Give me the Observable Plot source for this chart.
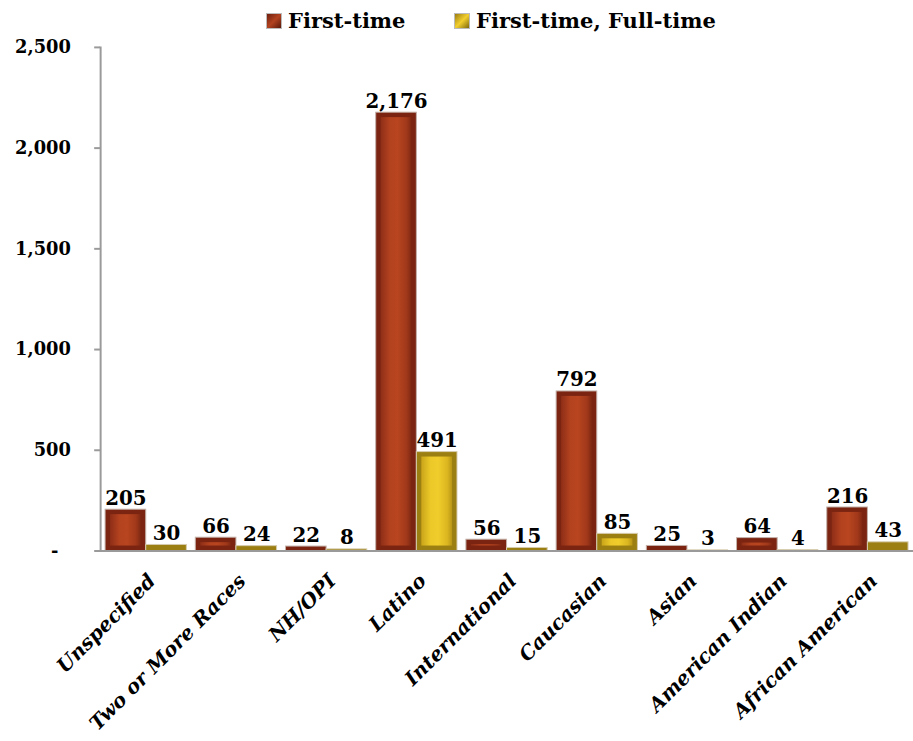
<!DOCTYPE html>
<html>
<head>
<meta charset="utf-8">
<script src="https://cdn.jsdelivr.net/npm/d3@7"></script>
<script src="https://cdn.jsdelivr.net/npm/@observablehq/plot@0.6"></script>
<style>
  html, body { margin: 0; padding: 0; background: #fff; overflow: hidden; width: 913px; height: 741px; }
  #legend { height: 36px; position: relative; font-family: "DejaVu Serif", serif; font-weight: bold; font-size: 21px; color: #000; }
  .lg { position: absolute; top: 8px; display: flex; align-items: center; }
  .sw { width: 16px; height: 16px; margin-right: 6px; box-sizing: border-box; border: 1px solid #bbb; }
  #chart svg { display: block; }
</style>
</head>
<body>
<div id="legend"></div>
<div id="chart"></div>
<script>
const categories = ["Unspecified", "Two or More Races", "NH/OPI", "Latino", "International", "Caucasian", "Asian", "American Indian", "African American"];
const firstTime = [205, 66, 22, 2176, 56, 792, 25, 64, 216];
const fullTime = [30, 24, 8, 491, 15, 85, 3, 4, 43];
const seriesNames = ["First-time", "First-time, Full-time"];
const yTicks = [0, 500, 1000, 1500, 2000, 2500];

const rows = [];
categories.forEach((c, i) => {
  rows.push({category: c, series: seriesNames[0], value: firstTime[i]});
  rows.push({category: c, series: seriesNames[1], value: fullTime[i]});
});
const red = rows.filter(d => d.series === seriesNames[0]);
const gold = rows.filter(d => d.series === seriesNames[1]);

const font = "DejaVu Serif, serif";
const half = 41;
const bev = 5;

const plot = Plot.plot({
  width: 921,
  height: 705,
  marginLeft: 101,
  marginRight: 0,
  marginTop: 11,
  marginBottom: 186,
  style: {fontFamily: font, fontWeight: "bold", fontSize: "18px", color: "#000", background: "transparent"},
  x: {domain: categories, paddingInner: 0.1, paddingOuter: 0.05, label: null},
  y: {domain: [0, 2500], label: null},
  marks: [
    Plot.barY(red, {x: "category", y: "value", fill: "#7a2411", insetRight: half, insetLeft: 0, stroke: "#c4b2aa", strokeWidth: 1}),
    Plot.barY(red, {x: "category", y: "value", filter: d => d.value > 40, fill: "url(#gRed)", insetRight: half + bev, insetLeft: bev, insetTop: bev, insetBottom: bev}),
    Plot.barY(gold, {x: "category", y: "value", fill: "#9c7f12", insetLeft: half, insetRight: 0, stroke: "#d6ccae", strokeWidth: 1}),
    Plot.barY(gold, {x: "category", y: "value", filter: d => d.value > 40, fill: "url(#gGold)", insetLeft: half + bev, insetRight: bev, insetTop: bev, insetBottom: bev}),
    Plot.text(red, {x: "category", y: "value", text: d => d3.format(",")(d.value), dx: -half / 2, dy: -5, lineAnchor: "bottom", fontSize: 20, fontWeight: "bold", fill: "#000"}),
    Plot.text(gold, {x: "category", y: "value", text: d => d3.format(",")(d.value), dx: half / 2, dy: -5, lineAnchor: "bottom", fontSize: 20, fontWeight: "bold", fill: "#000"}),
    Plot.ruleY([0], {stroke: "#9a9a9a", strokeWidth: 2}),
    Plot.frame({anchor: "left", stroke: "#9a9a9a", strokeWidth: 2}),
    Plot.axisY({ticks: yTicks, tickSize: 6, tickPadding: 24, stroke: "#9a9a9a", strokeWidth: 2, fontSize: 18, fontWeight: "bold", tickFormat: d => d === 0 ? "-\u00a0\u00a0" : d3.format(",")(d)}),
    Plot.axisX({tickRotate: -45, tickSize: 0, tickPadding: 27, fontSize: 20, fontStyle: "italic", fontWeight: "bold", dx: 6})
  ]
});

// gradients for bevelled bars
const ns = "http://www.w3.org/2000/svg";
const defs = document.createElementNS(ns, "defs");
function grad(id, stops) {
  const g = document.createElementNS(ns, "linearGradient");
  g.setAttribute("id", id);
  g.setAttribute("x1", "0"); g.setAttribute("x2", "1"); g.setAttribute("y1", "0"); g.setAttribute("y2", "0");
  stops.forEach(([o, c]) => {
    const s = document.createElementNS(ns, "stop");
    s.setAttribute("offset", o); s.setAttribute("stop-color", c);
    g.appendChild(s);
  });
  defs.appendChild(g);
}
grad("gRed", [[0, "#8e2e17"], [0.3, "#b3421f"], [0.55, "#b8451f"], [0.85, "#a0381a"], [1, "#7e2812"]]);
grad("gGold", [[0, "#c9a51a"], [0.3, "#ecc928"], [0.55, "#f0cd2b"], [0.85, "#dbb620"], [1, "#b89516"]]);
const svg = plot.tagName.toLowerCase() === "svg" ? plot : plot.querySelector("svg");
svg.insertBefore(defs, svg.firstChild);
document.getElementById("chart").appendChild(plot);

// legend
const legend = document.getElementById("legend");
const lx = [266, 454];
const swatch = ["linear-gradient(135deg,#6e1f0f,#b2421f 50%,#5a190b)", "linear-gradient(135deg,#9c7e10,#f2cf2e 50%,#7f6a0d)"];
seriesNames.forEach((s, i) => {
  const d = document.createElement("div");
  d.className = "lg";
  d.style.left = lx[i] + "px";
  d.innerHTML = `<span class="sw" style="background:${swatch[i]}"></span><span>${s}</span>`;
  legend.appendChild(d);
});
</script>
</body>
</html>
